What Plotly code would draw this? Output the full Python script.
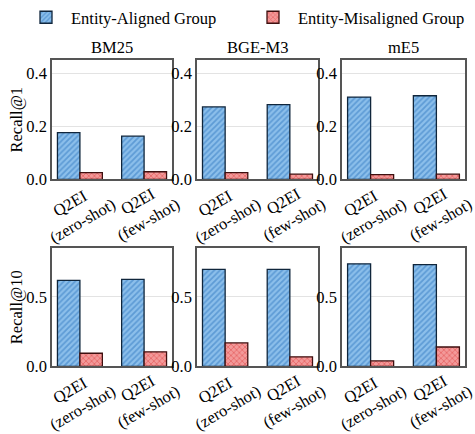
import plotly.graph_objects as go

categories = ["Q2EI&nbsp;&nbsp;&nbsp;&nbsp;&nbsp;<br>(zero-shot)", "Q2EI&nbsp;&nbsp;&nbsp;&nbsp;<br>(few-shot)"]
models = ["BM25", "BGE-M3", "mE5"]
series_names = ["Entity-Aligned Group", "Entity-Misaligned Group"]

# Recall@1 values per model: [zero-shot, few-shot]
r1_aligned = {"BM25": [0.176, 0.163], "BGE-M3": [0.273, 0.282], "mE5": [0.310, 0.315]}
r1_misaligned = {"BM25": [0.026, 0.029], "BGE-M3": [0.026, 0.020], "mE5": [0.018, 0.020]}
# Recall@10
r10_aligned = {"BM25": [0.619, 0.626], "BGE-M3": [0.698, 0.698], "mE5": [0.738, 0.733]}
r10_misaligned = {"BM25": [0.095, 0.105], "BGE-M3": [0.169, 0.069], "mE5": [0.040, 0.140]}

row_labels = ["Recall@1", "Recall@10"]
r1_ticks = [0.0, 0.2, 0.4]
r10_ticks = [0.0, 0.5]

FONT = "Liberation Serif"
FS = 16.5
W, H = 475, 434
xdom_px = [(52, 172), (197, 318), (342, 465)]
ydom_px = [(57.3, 177.7), (246.7, 366)]

fig = go.Figure()
blue_fill, blue_pat, blue_edge = "#8cbfeb", "#2f78c0", "#10263c"
red_fill, red_pat, red_edge = "#f39999", "#dc3c3c", "#3e0f0f"

data_rows = [(r1_aligned, r1_misaligned), (r10_aligned, r10_misaligned)]
x_idx = list(range(len(categories)))
w = 0.35

for r, (al, mis) in enumerate(data_rows):
    for c, m in enumerate(models):
        k = r * 3 + c + 1
        xa = "x" if k == 1 else f"x{k}"
        ya = "y" if k == 1 else f"y{k}"
        fig.add_trace(go.Bar(
            x=x_idx, y=al[m], width=w, offset=-w, xaxis=xa, yaxis=ya,
            name=series_names[0], legendgroup="a", showlegend=(k == 1),
            marker=dict(color=blue_fill, line=dict(color=blue_edge, width=1.3),
                        pattern=dict(shape="/", fgcolor=blue_pat, size=4, solidity=0.45)),
        ))
        fig.add_trace(go.Bar(
            x=x_idx, y=mis[m], width=w, offset=0, xaxis=xa, yaxis=ya,
            name=series_names[1], legendgroup="b", showlegend=(k == 1),
            marker=dict(color=red_fill, line=dict(color=red_edge, width=1.3),
                        pattern=dict(shape="x", fgcolor=red_pat, size=4, solidity=0.4)),
        ))
        xd = [xdom_px[c][0] / W, xdom_px[c][1] / W]
        yd = [1 - ydom_px[r][1] / H, 1 - ydom_px[r][0] / H]
        ticks = r1_ticks if r == 0 else r10_ticks
        yr = [0, 0.45] if r == 0 else [0, 0.852]
        fig.layout[f"xaxis{'' if k == 1 else k}"] = dict(
            domain=xd, anchor=ya, range=[-0.435, 1.435], automargin=False,
            tickvals=x_idx, ticktext=categories, tickangle=-30,
            ticklabelshift=22, ticklabelstandoff=-11, ticklabeloverflow="allow",
            showline=True, linecolor="#555555", linewidth=1.5, mirror=True,
            ticks="", showgrid=False,
            tickfont=dict(size=FS, color="black", family=FONT),
        )
        fig.layout[f"yaxis{'' if k == 1 else k}"] = dict(
            domain=yd, anchor=xa, range=yr, automargin=False,
            tickvals=ticks, ticktext=[f"{t:.1f}" for t in ticks],
            showline=True, linecolor="#555555", linewidth=1.5, mirror=True,
            ticks="",
            showgrid=True, gridcolor="#e3e3e3", gridwidth=1, zeroline=False,
            tickfont=dict(size=FS, color="black", family=FONT),
            title=dict(text=row_labels[r] if c == 0 else "", font=dict(size=FS, family=FONT, color="black"), standoff=0),
        )
        if r == 0:
            fig.add_annotation(text=m, x=(xd[0] + xd[1]) / 2, y=1 - 45 / H, xref="paper", yref="paper",
                               xanchor="center", yanchor="middle",
                               showarrow=False, font=dict(size=FS, family=FONT, color="black"))

fig.update_layout(
    width=W, height=H, margin=dict(l=0, r=0, t=0, b=0),
    plot_bgcolor="white", paper_bgcolor="white", barmode="overlay",
    font=dict(family=FONT, color="black"),
    legend=dict(orientation="h", x=35 / W, xanchor="left", y=1.008, yanchor="top",
                entrywidth=172, font=dict(size=FS, family=FONT), itemwidth=40,
                bgcolor="rgba(0,0,0,0)"),
)

fig.write_html("out.html", config={"displayModeBar": False},
               post_script="document.body.style.margin='0';document.body.style.overflow='hidden';")
